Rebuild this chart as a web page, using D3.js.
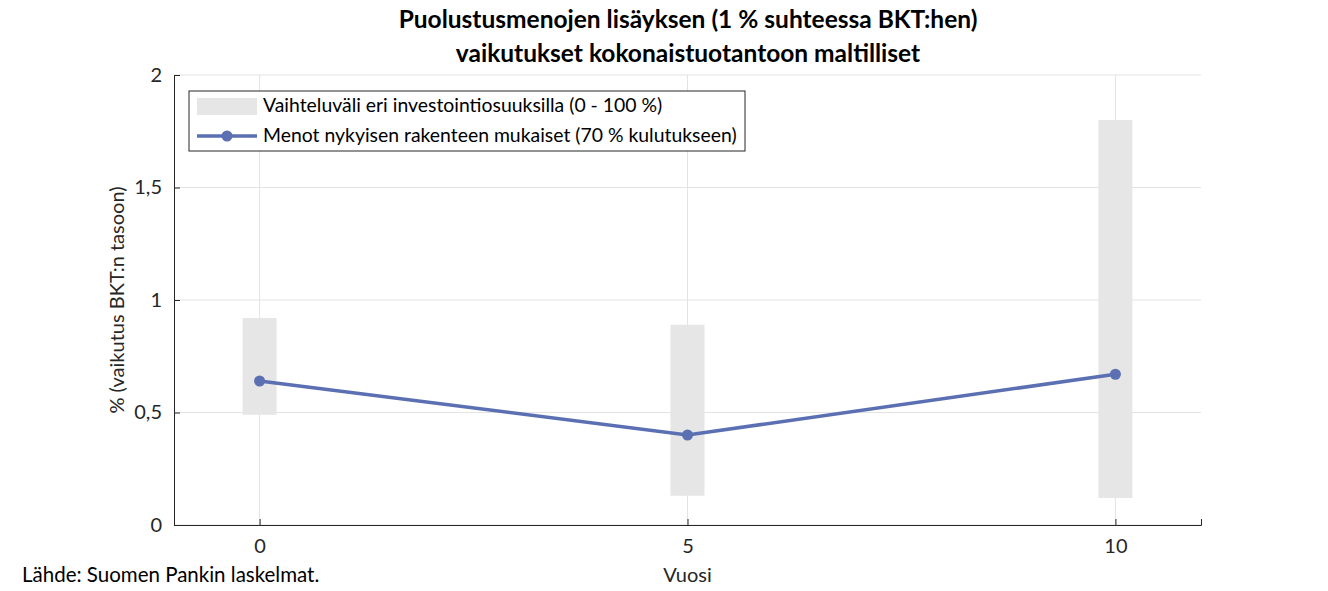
<!DOCTYPE html>
<html lang="fi">
<head>
<meta charset="UTF-8">
<title>Puolustusmenot</title>
<script src="https://d3js.org/d3.v7.min.js"></script>
<style>
body{margin:0;background:#fff;}
text{font-family:Lato, "Open Sans", sans-serif;}
</style>
</head>
<body>
<div id="chart"></div>
<script>
// data
var years = [0, 5, 10];
var rangeLow = [0.49, 0.13, 0.12];
var rangeHigh = [0.92, 0.89, 1.80];
var baseline = [0.64, 0.40, 0.67];
var xTicks = [0, 5, 10];
var yTicks = [0, 0.5, 1, 1.5, 2];

var W = 1328, H = 591;
var m = {left:174, right:127, top:75, bottom:66};

var svg = d3.select("#chart").append("svg").attr("width", W).attr("height", H);

var x = d3.scaleLinear().domain([-1, 11]).range([m.left, W - m.right]);
var y = d3.scaleLinear().domain([0, 2]).range([H - m.bottom, m.top]);

// grid
svg.selectAll("line.gx").data(xTicks).enter().append("line")
  .attr("x1", d => x(d)).attr("x2", d => x(d))
  .attr("y1", y(0)).attr("y2", y(2))
  .attr("stroke", "#e3e3e3");
svg.selectAll("line.gy").data(yTicks).enter().append("line")
  .attr("x1", x(-1)).attr("x2", x(11))
  .attr("y1", d => y(d)).attr("y2", d => y(d))
  .attr("stroke", "#e3e3e3");

// range bars
svg.selectAll("rect.rng").data(years).enter().append("rect")
  .attr("x", d => x(d) - 17).attr("width", 34)
  .attr("y", (d, i) => y(rangeHigh[i]))
  .attr("height", (d, i) => y(rangeLow[i]) - y(rangeHigh[i]))
  .attr("fill", "#e6e6e6");

// line
var pts = years.map((d, i) => [d, baseline[i]]);
svg.append("path").datum(pts)
  .attr("d", d3.line().x(d => x(d[0])).y(d => y(d[1])))
  .attr("fill", "none").attr("stroke", "#5b6fb3").attr("stroke-width", 3.5);
svg.selectAll("circle.pt").data(pts).enter().append("circle")
  .attr("cx", d => x(d[0])).attr("cy", d => y(d[1])).attr("r", 5.5)
  .attr("fill", "#5b6fb3");

// axes
var xa = svg.append("g").attr("transform", "translate(0," + y(0) + ")")
  .call(d3.axisBottom(x).tickValues(xTicks).tickSize(-6).tickPadding(14));
var ya = svg.append("g").attr("transform", "translate(" + x(-1) + ",0)")
  .call(d3.axisLeft(y).tickValues(yTicks).tickSize(-6).tickPadding(12)
    .tickFormat(d => String(d).replace(".", ",")));
[xa, ya].forEach(function(a){
  a.select(".domain").attr("stroke", "#262626");
  a.selectAll(".tick line").attr("stroke", "#262626");
  a.selectAll("text").attr("font-size", 20).attr("fill", "#262626")
    .style("font-family", "Lato, sans-serif");
});

// labels
svg.append("text").attr("x", x(5)).attr("y", 582).attr("text-anchor", "middle")
  .attr("font-size", 20).attr("fill", "#262626").text("Vuosi");
svg.append("text").attr("transform", "translate(124," + y(1) + ") rotate(-90)")
  .attr("text-anchor", "middle").attr("font-size", 20).attr("fill", "#262626")
  .text("% (vaikutus BKT:n tasoon)");
svg.append("text").attr("x", 22).attr("y", 582).attr("font-size", 20.5)
  .attr("fill", "#000").text("Lähde: Suomen Pankin laskelmat.");

svg.append("text").attr("x", 688).attr("y", 28).attr("text-anchor", "middle")
  .attr("font-size", 24.5).attr("font-weight", "bold")
  .text("Puolustusmenojen lisäyksen (1 % suhteessa BKT:hen)");
svg.append("text").attr("x", 688).attr("y", 62).attr("text-anchor", "middle")
  .attr("font-size", 24.5).attr("font-weight", "bold")
  .text("vaikutukset kokonaistuotantoon maltilliset");

// legend
var lg = svg.append("g").attr("transform", "translate(189,91)");
lg.append("rect").attr("width", 556).attr("height", 60)
  .attr("fill", "#fff").attr("stroke", "#262626");
lg.append("rect").attr("x", 8).attr("y", 7).attr("width", 60).attr("height", 17)
  .attr("fill", "#e6e6e6");
lg.append("line").attr("x1", 8).attr("x2", 68).attr("y1", 45).attr("y2", 45)
  .attr("stroke", "#5b6fb3").attr("stroke-width", 3.5);
lg.append("circle").attr("cx", 38).attr("cy", 45).attr("r", 5.5).attr("fill", "#5b6fb3");
lg.append("text").attr("x", 74).attr("y", 21).attr("font-size", 19.4)
  .text("Vaihteluväli eri investointiosuuksilla (0 - 100 %)");
lg.append("text").attr("x", 74).attr("y", 51).attr("font-size", 19.4)
  .text("Menot nykyisen rakenteen mukaiset (70 % kulutukseen)");
</script>
</body>
</html>
